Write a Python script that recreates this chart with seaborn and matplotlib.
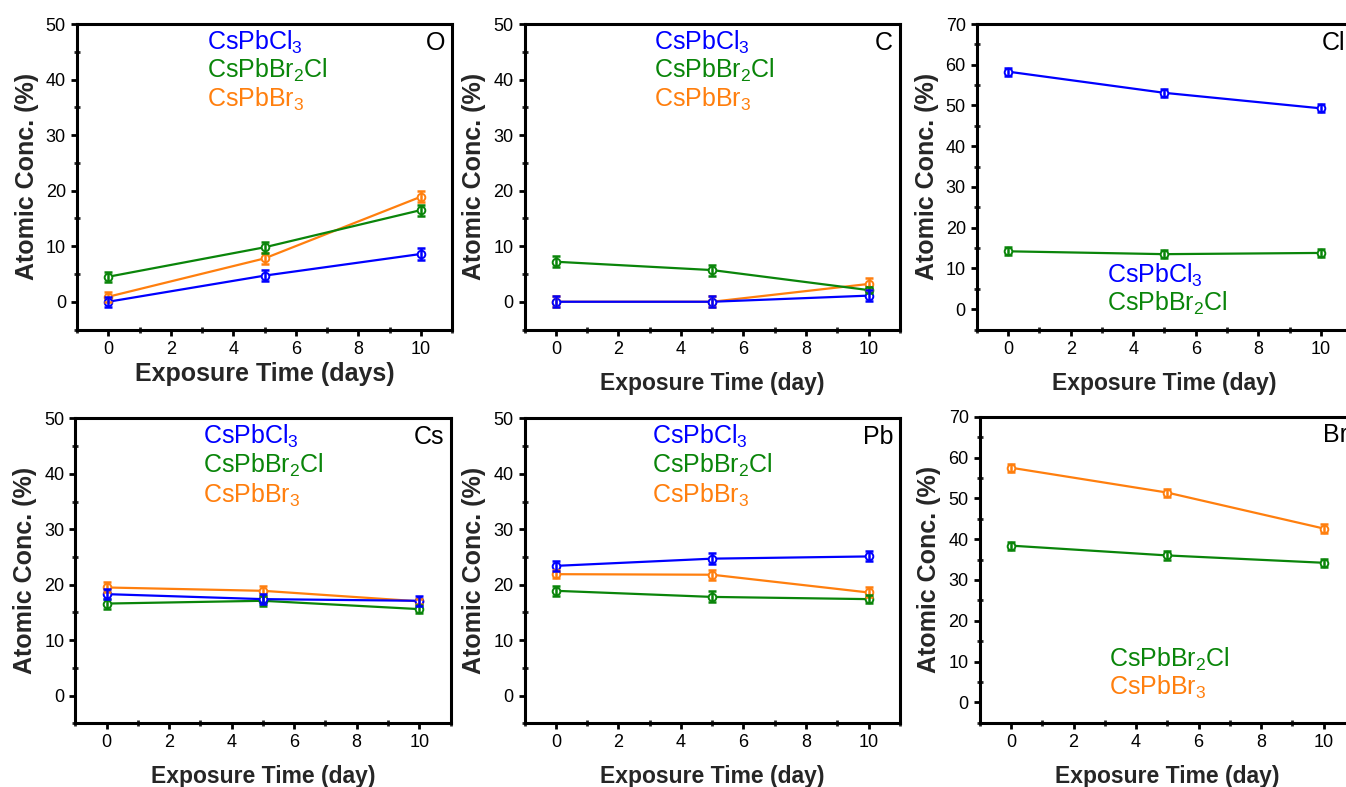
import numpy as np
import pandas as pd
import matplotlib
matplotlib.use("Agg")
import matplotlib.pyplot as plt
import seaborn as sns
from matplotlib.ticker import MultipleLocator

# ---------------- data ----------------
days = [0, 5, 10]
samples = ["CsPbCl3", "CsPbBr2Cl", "CsPbBr3"]
sample_labels = {"CsPbCl3": r"CsPbCl$_3$", "CsPbBr2Cl": r"CsPbBr$_2$Cl", "CsPbBr3": r"CsPbBr$_3$"}
colors = {"CsPbCl3": "#0000ff", "CsPbBr2Cl": "#0a850a", "CsPbBr3": "#ff7f0e"}

# O
O_CsPbCl3 = [0.0, 4.7, 8.6]
O_CsPbBr2Cl = [4.5, 9.8, 16.5]
O_CsPbBr3 = [0.9, 7.8, 18.9]
O_err_CsPbCl3 = [0.9, 1.0, 1.0]
O_err_CsPbBr2Cl = [0.9, 1.0, 1.0]
O_err_CsPbBr3 = [0.9, 1.0, 1.0]
# C
C_CsPbCl3 = [0.0, 0.0, 1.1]
C_CsPbBr2Cl = [7.2, 5.7, 2.1]
C_CsPbBr3 = [0.0, 0.0, 3.2]
C_err_CsPbCl3 = [1.0, 1.0, 1.0]
C_err_CsPbBr2Cl = [1.0, 1.0, 0.6]
C_err_CsPbBr3 = [1.0, 1.0, 1.0]
# Cl
Cl_CsPbCl3 = [58.3, 53.1, 49.3]
Cl_CsPbBr2Cl = [14.2, 13.5, 13.8]
Cl_err_CsPbCl3 = [1.0, 1.0, 1.0]
Cl_err_CsPbBr2Cl = [1.0, 1.0, 1.0]
# Cs
Cs_CsPbCl3 = [18.3, 17.4, 17.1]
Cs_CsPbBr2Cl = [16.6, 17.1, 15.6]
Cs_CsPbBr3 = [19.5, 18.9, 17.0]
Cs_err_CsPbCl3 = [0.9, 0.9, 0.9]
Cs_err_CsPbBr2Cl = [0.9, 0.9, 0.7]
Cs_err_CsPbBr3 = [0.9, 0.9, 0.5]
# Pb
Pb_CsPbCl3 = [23.4, 24.7, 25.1]
Pb_CsPbBr2Cl = [18.9, 17.8, 17.4]
Pb_CsPbBr3 = [21.9, 21.8, 18.6]
Pb_err_CsPbCl3 = [0.9, 1.0, 0.9]
Pb_err_CsPbBr2Cl = [0.9, 1.0, 0.7]
Pb_err_CsPbBr3 = [0.7, 0.9, 0.9]
# Br
Br_CsPbBr2Cl = [38.4, 36.0, 34.2]
Br_CsPbBr3 = [57.5, 51.4, 42.6]
Br_err_CsPbBr2Cl = [1.0, 1.0, 1.0]
Br_err_CsPbBr3 = [1.0, 1.0, 1.0]

panels = [
    dict(elem="O", ylim=(-5, 50), xlabel="Exposure Time (days)",
         series={"CsPbBr3": (O_CsPbBr3, O_err_CsPbBr3), "CsPbBr2Cl": (O_CsPbBr2Cl, O_err_CsPbBr2Cl),
                 "CsPbCl3": (O_CsPbCl3, O_err_CsPbCl3)},
         legend=["CsPbCl3", "CsPbBr2Cl", "CsPbBr3"], leg_y=[0.939, 0.849, 0.753], leg_x=0.346),
    dict(elem="C", ylim=(-5, 50), xlabel="Exposure Time (day)",
         series={"CsPbBr3": (C_CsPbBr3, C_err_CsPbBr3), "CsPbBr2Cl": (C_CsPbBr2Cl, C_err_CsPbBr2Cl),
                 "CsPbCl3": (C_CsPbCl3, C_err_CsPbCl3)},
         legend=["CsPbCl3", "CsPbBr2Cl", "CsPbBr3"], leg_y=[0.939, 0.849, 0.753], leg_x=0.344),
    dict(elem="Cl", ylim=(-5, 70), xlabel="Exposure Time (day)",
         series={"CsPbBr2Cl": (Cl_CsPbBr2Cl, Cl_err_CsPbBr2Cl), "CsPbCl3": (Cl_CsPbCl3, Cl_err_CsPbCl3)},
         legend=["CsPbCl3", "CsPbBr2Cl"], leg_y=[0.176, 0.085], leg_x=0.346),
    dict(elem="Cs", ylim=(-5, 50), xlabel="Exposure Time (day)",
         series={"CsPbBr3": (Cs_CsPbBr3, Cs_err_CsPbBr3), "CsPbBr2Cl": (Cs_CsPbBr2Cl, Cs_err_CsPbBr2Cl),
                 "CsPbCl3": (Cs_CsPbCl3, Cs_err_CsPbCl3)},
         legend=["CsPbCl3", "CsPbBr2Cl", "CsPbBr3"], leg_y=[0.94, 0.847, 0.749], leg_x=0.34),
    dict(elem="Pb", ylim=(-5, 50), xlabel="Exposure Time (day)",
         series={"CsPbBr3": (Pb_CsPbBr3, Pb_err_CsPbBr3), "CsPbBr2Cl": (Pb_CsPbBr2Cl, Pb_err_CsPbBr2Cl),
                 "CsPbCl3": (Pb_CsPbCl3, Pb_err_CsPbCl3)},
         legend=["CsPbCl3", "CsPbBr2Cl", "CsPbBr3"], leg_y=[0.94, 0.847, 0.749], leg_x=0.34),
    dict(elem="Br", ylim=(-5, 70), xlabel="Exposure Time (day)",
         series={"CsPbBr2Cl": (Br_CsPbBr2Cl, Br_err_CsPbBr2Cl), "CsPbBr3": (Br_CsPbBr3, Br_err_CsPbBr3)},
         legend=["CsPbBr2Cl", "CsPbBr3"], leg_y=[0.207, 0.116], leg_x=0.345),
]

# ---------------- style ----------------
sns.set_style("ticks")
plt.rcParams["font.family"] = ["Liberation Sans", "DejaVu Sans"]
plt.rcParams["mathtext.fontset"] = "custom"
plt.rcParams["mathtext.rm"] = "Liberation Sans"
plt.rcParams["mathtext.it"] = "Liberation Sans:italic"
plt.rcParams["mathtext.bf"] = "Liberation Sans:bold"

fig = plt.figure(figsize=(13.46, 7.87), dpi=100)

W = 0.2787
rects = [
    (0.0572, 0.5813, W, 0.3882),
    (0.3898, 0.5813, W, 0.3882),
    (0.7258, 0.5813, W, 0.3882),
    (0.0560, 0.0809, W, 0.3875),
    (0.3898, 0.0809, W, 0.3875),
    (0.7279, 0.0817, W, 0.3888),
]

for i, (p, r) in enumerate(zip(panels, rects)):
    ax = fig.add_axes(r)
    rows = []
    for s, (vals, errs) in p["series"].items():
        for d, v, e in zip(days, vals, errs):
            rows.append({"day": d, "value": v, "err": e, "sample": s})
    df = pd.DataFrame(rows)
    order = list(p["series"].keys())
    sns.lineplot(data=df, x="day", y="value", hue="sample", hue_order=order,
                 palette=colors, marker="o", markersize=5.5, markerfacecolor="white",
                 markeredgewidth=1.4, linewidth=1.6, legend=False, ax=ax,
                 estimator=None, sort=False)
    for line in ax.get_lines():
        line.set_markeredgecolor(line.get_color())
        line.set_zorder(3)
    for s in order:
        sub = df[df["sample"] == s]
        ax.errorbar(sub["day"], sub["value"], yerr=sub["err"], fmt="none",
                    ecolor=colors[s], elinewidth=1.8, capsize=3, capthick=1.8, zorder=4)

    ax.set_xlim(-1, 11)
    ax.set_ylim(*p["ylim"])
    ax.xaxis.set_major_locator(MultipleLocator(2))
    ax.xaxis.set_minor_locator(MultipleLocator(1))
    ax.yaxis.set_major_locator(MultipleLocator(10))
    ax.yaxis.set_minor_locator(MultipleLocator(5))
    ax.tick_params(which="major", direction="out", length=4, width=2, labelsize=13,
                   top=False, right=False, pad=4, colors="black")
    ax.tick_params(which="minor", direction="inout", length=5, width=2,
                   top=False, right=False)
    for sp in ax.spines.values():
        sp.set_linewidth(2.2)
        sp.set_color("black")
        sp.set_visible(True)

    ax.set_ylabel("Atomic Conc. (%)", fontsize=18, fontweight="bold", labelpad=5)
    if i == 0:
        ax.set_xlabel(p["xlabel"], fontsize=18, fontweight="bold", labelpad=3)
    else:
        ax.set_xlabel(p["xlabel"], fontsize=16.5, fontweight="bold", labelpad=10)

    for s, yy in zip(p["legend"], p["leg_y"]):
        ax.text(p["leg_x"], yy, sample_labels[s], color=colors[s], fontsize=18,
                transform=ax.transAxes, ha="left", va="center")
    ax.text(0.982, 0.939, p["elem"], fontsize=18, color="black",
            transform=ax.transAxes, ha="right", va="center")

fig.savefig("out.png", dpi=100)
